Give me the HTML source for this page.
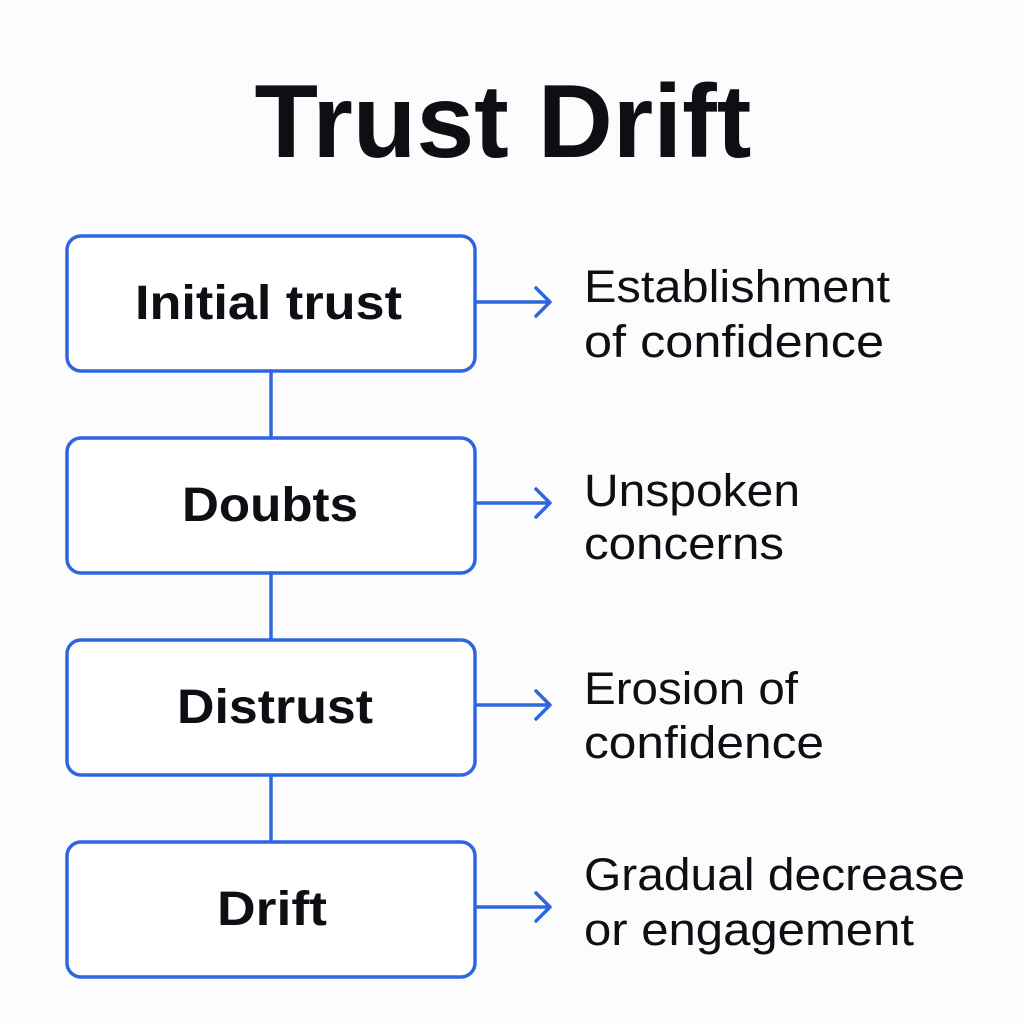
<!DOCTYPE html>
<html><head><style>
html,body{margin:0;padding:0;background:#fcfcfc;}
svg{display:block}
</style></head><body>
<svg width="1024" height="1024" viewBox="0 0 1024 1024" xmlns="http://www.w3.org/2000/svg">
<rect width="1024" height="1024" fill="#fcfcfc"/>
<text x="503" y="157" text-anchor="middle" font-family="Liberation Sans, sans-serif" font-weight="bold" font-size="104" fill="#0d0f14">Trust Drift</text>
<g fill="#fff" stroke="#2f66e0" stroke-width="3.5">
<rect x="67" y="236" width="408" height="135" rx="14"/>
<rect x="67" y="438" width="408" height="135" rx="14"/>
<rect x="67" y="640" width="408" height="135" rx="14"/>
<rect x="67" y="842" width="408" height="135" rx="14"/>
</g>
<g stroke="#2f66e0" stroke-width="3.5" fill="none" stroke-linecap="round" stroke-linejoin="round">
<line x1="271" y1="371" x2="271" y2="438"/>
<line x1="271" y1="573" x2="271" y2="640"/>
<line x1="271" y1="775" x2="271" y2="842"/>
<line x1="477" y1="302" x2="549" y2="302"/><polyline points="536,288 550,302 536,316"/>
<line x1="477" y1="503" x2="549" y2="503"/><polyline points="536,489 550,503 536,517"/>
<line x1="477" y1="705" x2="549" y2="705"/><polyline points="536,691 550,705 536,719"/>
<line x1="477" y1="907" x2="549" y2="907"/><polyline points="536,893 550,907 536,921"/>
</g>
<g font-family="Liberation Sans, sans-serif" font-weight="bold" font-size="48" fill="#0d0f14" lengthAdjust="spacingAndGlyphs">
<text x="135" y="319" textLength="267" lengthAdjust="spacingAndGlyphs">Initial trust</text>
<text x="182" y="521" textLength="176" lengthAdjust="spacingAndGlyphs">Doubts</text>
<text x="177" y="723" textLength="196" lengthAdjust="spacingAndGlyphs">Distrust</text>
<text x="217" y="925" textLength="110" lengthAdjust="spacingAndGlyphs">Drift</text>
</g>
<g font-family="Liberation Sans, sans-serif" font-size="45" fill="#0d0f14">
<text x="584" y="302" textLength="306" lengthAdjust="spacingAndGlyphs">Establishment</text>
<text x="584" y="357" textLength="300" lengthAdjust="spacingAndGlyphs">of confidence</text>
<text x="584" y="506" textLength="216" lengthAdjust="spacingAndGlyphs">Unspoken</text>
<text x="584" y="559" textLength="200" lengthAdjust="spacingAndGlyphs">concerns</text>
<text x="584" y="704" textLength="214" lengthAdjust="spacingAndGlyphs">Erosion of</text>
<text x="584" y="758" textLength="240" lengthAdjust="spacingAndGlyphs">confidence</text>
<text x="584" y="890" textLength="381" lengthAdjust="spacingAndGlyphs">Gradual decrease</text>
<text x="584" y="945" textLength="330" lengthAdjust="spacingAndGlyphs">or engagement</text>
</g>
</svg>
</body></html>
